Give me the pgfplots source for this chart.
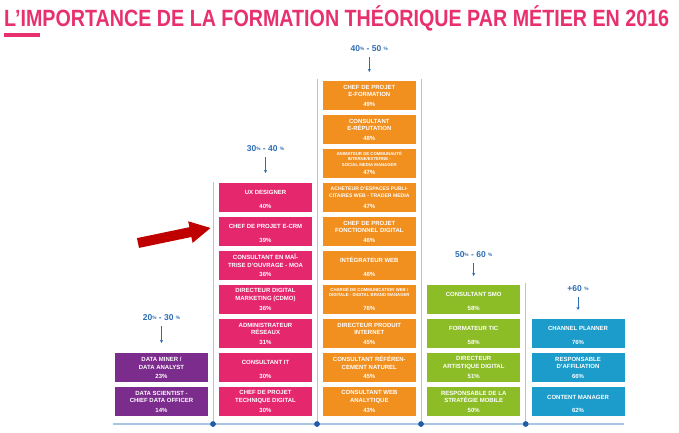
\documentclass[border=0pt]{standalone}
\usepackage{pgfplots}
\pgfplotsset{compat=1.18}
\usepackage{graphicx}
\usepackage{fontspec}
\setmainfont{Liberation Sans}
\usetikzlibrary{arrows.meta}
\definecolor{cpink}{HTML}{E5286E}
\definecolor{ctitle}{HTML}{E8306E}
\definecolor{cpurple}{HTML}{7B2C8C}
\definecolor{corange}{HTML}{F18F1F}
\definecolor{cgreen}{HTML}{8CBD27}
\definecolor{cblue}{HTML}{1C9CCB}
\definecolor{clab}{HTML}{2E6DB4}
\definecolor{cline}{HTML}{A9C6E6}
\definecolor{cdot}{HTML}{1F5BA8}
\definecolor{cred}{HTML}{C00000}
\pgfdeclareplotmark{jbox}{\pgfpathrectangle{\pgfpoint{-46.5pt}{-14.6pt}}{\pgfpoint{93pt}{29.2pt}}\pgfusepathqfill}
\newcommand\pc{\raisebox{1.8pt}{\fontsize{4.8}{5}\selectfont\%}}
\begin{document}
\begin{tikzpicture}
\begin{axis}[scale only axis, width=679pt, height=433pt,
  xmin=0, xmax=679, ymin=0, ymax=433, y dir=reverse,
  hide axis, clip=false,
  lab/.style={draw=none, mark=none, nodes near coords, point meta=explicit symbolic,
    every node near coord/.append style={anchor=center, text=white, align=center, inner sep=0pt, font=\bfseries\fontsize{6}{7.6}\selectfont}},
  labsmall/.style={lab, every node near coord/.append style={font=\bfseries\fontsize{4.3}{5.6}\selectfont}},
  labmid/.style={lab, every node near coord/.append style={font=\bfseries\fontsize{5.1}{7.4}\selectfont}},
]
% frame lines
\addplot[cline, line width=1.5pt] coordinates {(113,424) (624,424)};
\addplot[cline, line width=0.9pt] coordinates {(213,182) (213,424)};
\addplot[cline, line width=0.9pt] coordinates {(317,79) (317,424)};
\addplot[cline, line width=0.9pt] coordinates {(421,79) (421,424)};
\addplot[cline, line width=0.9pt] coordinates {(525.7,283) (525.7,424)};
\addplot[only marks, mark=*, mark size=2.6pt, color=cdot] coordinates {(213,424) (317,424) (421,424) (525.7,424)};
% boxes
\addplot[only marks, mark=jbox, color=cpurple] coordinates {(161.5,401.4) (161.5,367.4)};
\addplot[only marks, mark=jbox, color=cpink] coordinates {(265.5,401.4) (265.5,367.4) (265.5,333.4) (265.5,299.4) (265.5,265.4) (265.5,231.4) (265.5,197.4)};
\addplot[only marks, mark=jbox, color=corange] coordinates {(369.3,401.4) (369.3,367.4) (369.3,333.4) (369.3,299.4) (369.3,265.4) (369.3,231.4) (369.3,197.4) (369.3,163.4) (369.3,129.4) (369.3,95.4)};
\addplot[only marks, mark=jbox, color=cgreen] coordinates {(473.7,401.4) (473.7,367.4) (473.7,333.4) (473.7,299.4)};
\addplot[only marks, mark=jbox, color=cblue] coordinates {(578,401.4) (578,367.4) (578,333.4)};
% names
\addplot[lab] coordinates {
 (161.5,397.1) [DATA SCIENTIST -\\CHIEF DATA OFFICER]
 (161.5,363.1) [DATA MINER /\\DATA ANALYST]
 (265.5,397.1) [CHEF DE PROJET\\TECHNIQUE DIGITAL]
 (265.5,362.3) [CONSULTANT IT]
 (265.5,329.1) [ADMINISTRATEUR\\RÉSEAUX]
 (265.5,295.1) [DIRECTEUR DIGITAL\\MARKETING (CDMO)]
 (265.5,261.1) [CONSULTANT EN MAÎ-\\TRISE D’OUVRAGE - MOA]
 (265.5,226.3) [CHEF DE PROJET E-CRM]
 (265.5,192.3) [UX DESIGNER]
 (369.3,397.1) [CONSULTANT WEB\\ANALYTIQUE]
 (369.3,363.1) [CONSULTANT RÉFÉREN-\\CEMENT NATUREL]
 (369.3,329.1) [DIRECTEUR PRODUIT\\INTERNET]
 (369.3,260.3) [INTÉGRATEUR WEB]
 (369.3,227.1) [CHEF DE PROJET\\FONCTIONNEL DIGITAL]
 (369.3,125.1) [CONSULTANT\\E-RÉPUTATION]
 (369.3,91.1) [CHEF DE PROJET\\E-FORMATION]
 (473.7,397.1) [RESPONSABLE DE LA\\STRATÉGIE MOBILE]
 (473.7,363.1) [DIRECTEUR\\ARTISTIQUE DIGITAL]
 (473.7,328.3) [FORMATEUR TIC]
 (473.7,294.3) [CONSULTANT SMO]
 (578,397.1) [CONTENT MANAGER]
 (578,363.1) [RESPONSABLE\\D’AFFILIATION]
 (578,328.3) [CHANNEL PLANNER]
};
\addplot[labmid] coordinates {
 (369.3,192.5) [ACHETEUR D’ESPACES PUBLI-\\CITAIRES WEB - TRADER MEDIA]
};
\addplot[labsmall] coordinates {
 (369.3,159.1) [ANIMATEUR DE COMMUNAUTÉ\\INTERNE/EXTERNE -\\SOCIAL MEDIA MANAGER]
 (369.3,292.1) [CHARGÉ DE COMMUNICATION WEB /\\DIGITALE - DIGITAL BRAND MANAGER]
};
% percentages
\addplot[lab] coordinates {
 (161.5,410.1) [14\%] (161.5,376.1) [23\%]
 (265.5,410.1) [30\%] (265.5,376.1) [30\%] (265.5,342.1) [31\%] (265.5,308.1) [36\%] (265.5,274.1) [36\%] (265.5,240.1) [39\%] (265.5,206.1) [40\%]
 (369.3,410.1) [43\%] (369.3,376.1) [45\%] (369.3,342.1) [45\%] (369.3,308.1) [76\%] (369.3,274.1) [46\%] (369.3,240.1) [46\%] (369.3,206.1) [47\%] (369.3,172.1) [47\%] (369.3,138.1) [48\%] (369.3,104.1) [49\%]
 (473.7,410.1) [50\%] (473.7,376.1) [51\%] (473.7,342.1) [58\%] (473.7,308.1) [58\%]
 (578,410.1) [62\%] (578,376.1) [66\%] (578,342.1) [76\%]
};
% range arrows
\addplot[clab, line width=0.8pt, -{Stealth[length=3.2pt,width=3.2pt]}] coordinates {(161.5,326) (161.5,343)};
\addplot[clab, line width=0.8pt, -{Stealth[length=3.2pt,width=3.2pt]}] coordinates {(265.5,157) (265.5,173)};
\addplot[clab, line width=0.8pt, -{Stealth[length=3.2pt,width=3.2pt]}] coordinates {(369.3,57) (369.3,72)};
\addplot[clab, line width=0.8pt, -{Stealth[length=3.2pt,width=3.2pt]}] coordinates {(473.7,263) (473.7,276)};
\addplot[clab, line width=0.8pt, -{Stealth[length=3.2pt,width=3.2pt]}] coordinates {(578,297) (578,310)};
% red arrow
\addplot[fill=cred, draw=none] coordinates {(137.0,238.1) (189.4,227.2) (188.2,221.3) (210.5,228) (192.6,242.9) (191.4,237.0) (139.0,247.9)} -- cycle;
% title bar
\addplot[fill=ctitle, draw=none] coordinates {(4,33) (40,33) (40,37) (4,37)} -- cycle;
% texts
\node[anchor=base west, inner sep=0pt, text=ctitle] at (axis cs:4,26.5) {\resizebox{665pt}{\height}{\fontsize{23.5}{28}\selectfont\bfseries L’IMPORTANCE DE LA FORMATION THÉORIQUE PAR MÉTIER EN 2016}};
\tikzset{rl/.style={text=clab, font=\bfseries\fontsize{8.5}{9}\selectfont, inner sep=0pt, anchor=center}}
\node[rl] at (axis cs:161.5,318) {20\pc{} - 30 \pc};
\node[rl] at (axis cs:265.5,149) {30\pc{} - 40 \pc};
\node[rl] at (axis cs:369.3,49) {40\pc{} - 50 \pc};
\node[rl] at (axis cs:473.7,255) {50\pc{} - 60 \pc};
\node[rl] at (axis cs:578,289) {+60 \pc};
\end{axis}
\pgfresetboundingbox
\path[use as bounding box] (current axis.south west) rectangle (current axis.north east);
\end{tikzpicture}
\end{document}
